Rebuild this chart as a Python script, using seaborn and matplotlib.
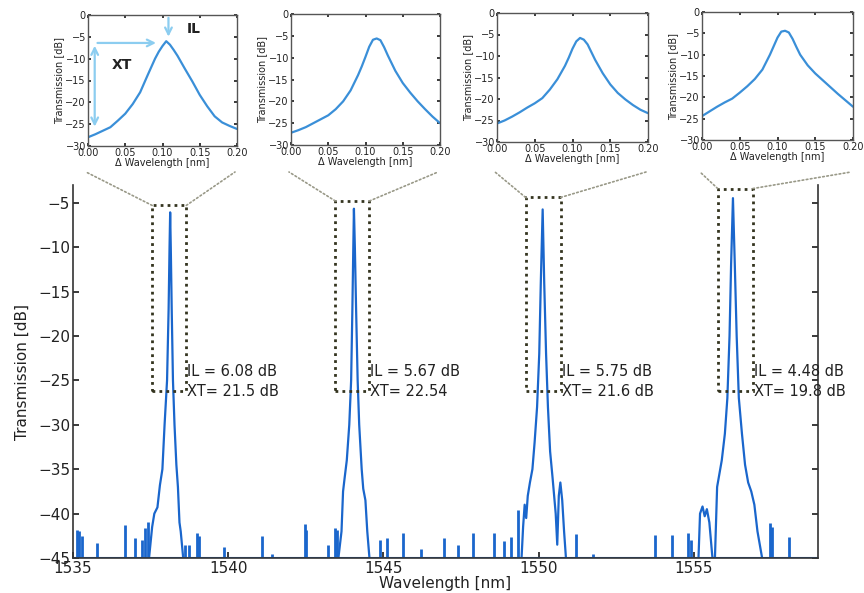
"""
Ring filter transmission: full spectrum with zoomed insets around each channel.
"""

import matplotlib
matplotlib.use("Agg")
import matplotlib.pyplot as plt
from matplotlib.patches import ConnectionPatch, Rectangle
import seaborn as sns

# ---- inset data (delta wavelength in nm, transmission in dB) ----
inset_x = [0.00, 0.01, 0.02, 0.03, 0.04, 0.05, 0.06, 0.07, 0.08, 0.09, 0.095, 0.10,
           0.105, 0.11, 0.115, 0.12, 0.125, 0.13, 0.14, 0.15, 0.16, 0.17, 0.18, 0.19, 0.20]
inset1_y = [-28.0, -27.3, -26.5, -25.7, -24.2, -22.6, -20.4, -17.7, -13.8, -10.0, -8.4, -7.1,
            -6.0, -6.8, -8.0, -9.3, -10.8, -12.3, -15.2, -18.3, -20.9, -23.2, -24.6, -25.4, -26.1]
inset2_y = [-27.2, -26.6, -25.9, -25.0, -24.1, -23.2, -21.8, -20.0, -17.5, -14.0, -12.0, -9.8,
            -7.5, -5.9, -5.6, -6.0, -7.6, -9.5, -13.0, -15.8, -18.0, -20.0, -21.8, -23.5, -25.0]
inset3_y = [-25.7, -25.0, -24.1, -23.1, -22.0, -21.0, -19.8, -17.8, -15.4, -12.3, -10.4, -8.3,
            -6.6, -5.8, -6.2, -7.3, -9.1, -10.9, -14.0, -16.6, -18.6, -20.1, -21.4, -22.5, -23.3]
inset4_y = [-24.4, -23.3, -22.2, -21.2, -20.3, -18.9, -17.4, -15.7, -13.5, -10.0, -8.0, -6.0,
            -4.6, -4.4, -4.8, -6.3, -8.2, -10.0, -12.5, -14.4, -16.0, -17.6, -19.2, -20.7, -22.2]
inset_curves = [inset1_y, inset2_y, inset3_y, inset4_y]

# ---- main spectrum: the four channel peaks ----
peak1_x = [1537.45, 1537.55, 1537.62, 1537.72, 1537.80, 1537.88, 1537.95, 1538.03, 1538.08,
           1538.11, 1538.13, 1538.15, 1538.18, 1538.22, 1538.27, 1538.33, 1538.38, 1538.43,
           1538.47, 1538.55]
peak1_y = [-45, -41.5, -40, -39.3, -36.8, -35, -30, -25, -17, -10, -6.08, -10, -17, -25,
           -30, -34.5, -37, -41, -42, -45]
peak2_x = [1543.55, 1543.65, 1543.70, 1543.75, 1543.82, 1543.90, 1543.96, 1544.00, 1544.03,
           1544.05, 1544.08, 1544.12, 1544.17, 1544.22, 1544.30, 1544.35, 1544.42, 1544.48,
           1544.55]
peak2_y = [-45, -42, -37.5, -36, -34, -30, -25, -17, -10, -5.67, -10, -17, -25, -30, -35,
           -37.2, -38.5, -42, -45]
peak3_x = [1549.45, 1549.50, 1549.55, 1549.60, 1549.65, 1549.72, 1549.80, 1549.87, 1549.95,
           1550.02, 1550.07, 1550.13, 1550.18, 1550.24, 1550.30, 1550.37, 1550.45, 1550.55,
           1550.60, 1550.65, 1550.70, 1550.76, 1550.82, 1550.88]
peak3_y = [-45, -41.5, -39, -40.5, -38, -36.5, -35, -32, -28, -22, -14, -5.75, -14, -22,
           -28, -33, -36, -40, -43.5, -38, -36.5, -38.5, -42, -45]
peak4_x = [1555.15, 1555.20, 1555.28, 1555.35, 1555.42, 1555.50, 1555.60, 1555.68, 1555.75,
           1555.80, 1555.90, 1556.00, 1556.08, 1556.15, 1556.20, 1556.26, 1556.32, 1556.38,
           1556.45, 1556.55, 1556.65, 1556.75, 1556.85, 1556.95, 1557.05, 1557.15, 1557.20]
peak4_y = [-45, -40, -39.2, -40.3, -39.5, -41, -45, -45, -37, -36, -34, -31, -27, -20, -12,
           -4.48, -12, -20, -27, -31, -34.5, -36.5, -37.5, -39, -42, -44, -45]
peaks = [(peak1_x, peak1_y), (peak2_x, peak2_y), (peak3_x, peak3_y), (peak4_x, peak4_y)]

# ---- noise spikes above the -45 dB floor ----
spike_x = [1535.12, 1535.20, 1535.28, 1535.77, 1536.68, 1537.00, 1537.22, 1537.32, 1537.40,
           1538.60, 1538.75, 1539.00, 1539.07, 1539.85, 1541.10, 1541.40, 1542.48, 1542.52,
           1543.23, 1543.45, 1543.52, 1544.90, 1545.10, 1545.64, 1546.20, 1546.94, 1547.39,
           1547.87, 1548.55, 1548.87, 1549.10, 1549.33, 1551.20, 1551.74, 1553.74, 1554.29,
           1554.80, 1554.92, 1557.45, 1557.52, 1558.06]
spike_y = [-41.8, -42.0, -42.5, -43.3, -41.3, -42.8, -43.0, -41.6, -41.0,
           -43.5, -43.5, -42.2, -42.5, -43.8, -42.5, -44.5, -41.2, -41.8,
           -43.5, -41.6, -41.8, -43.0, -42.7, -42.2, -44.0, -42.7, -43.5,
           -42.2, -42.2, -43.1, -42.6, -39.6, -42.3, -44.5, -42.4, -42.4,
           -42.2, -43.0, -41.1, -41.5, -42.6]

# ---- zoom boxes and annotations ----
box_left = [1537.55, 1543.45, 1549.58, 1555.77]
box_right = [1538.65, 1544.55, 1550.71, 1556.90]
box_top = [-5.3, -4.8, -4.4, -3.4]
box_bottom = -26.2
il_values = ["6.08 dB", "5.67 dB", "5.75 dB", "4.48 dB"]
xt_values = ["21.5 dB", "22.54", "21.6 dB", "19.8 dB"]
label_x = [1538.68, 1544.58, 1550.74, 1556.93]

# inset placement in figure pixels: (left, right, top, bottom)
inset_px = [(88, 237, 15, 146), (291, 440, 14, 145), (497, 648, 13, 142), (702, 853, 12, 140)]

W, H = 864, 593
LINE = "#1a66cc"
INSET_LINE = "#3a8fd8"
ARROW = "#8ccdf0"
TEXT = "#222222"

sns.set_theme(style="ticks")
plt.rcParams['font.family'] = ['DejaVu Sans']

fig = plt.figure(figsize=(W / 100, H / 100), dpi=100)

# ---- main axes ----
ax = fig.add_axes([73 / W, 1 - 558 / H, (818 - 73) / W, (558 - 185) / H])
ax.plot([1535, 1559], [-45, -45], color=LINE, lw=1.5)
for px, py in peaks:
    sns.lineplot(x=px, y=py, ax=ax, color=LINE, lw=1.6, sort=False, estimator=None)
ax.vlines(spike_x, -45, spike_y, color=LINE, lw=2)

ax.set_xlim(1535, 1559)
ax.set_ylim(-45, -3)
ax.set_xticks([1535, 1540, 1545, 1550, 1555])
ax.set_yticks([-5, -10, -15, -20, -25, -30, -35, -40, -45])
ax.tick_params(direction="in", length=4, labelsize=11, pad=2, colors=TEXT, right=True)
ax.spines["top"].set_visible(False)
for s in ["left", "right", "bottom"]:
    ax.spines[s].set_color("#333333")
    ax.spines[s].set_linewidth(1.2)
ax.set_xlabel("Wavelength [nm]", fontsize=11, labelpad=0, color=TEXT)
ax.set_ylabel("Transmission [dB]", fontsize=11, labelpad=6, color=TEXT)

for i in range(4):
    rect = Rectangle((box_left[i], box_bottom), box_right[i] - box_left[i],
                     box_top[i] - box_bottom, fill=False, ls=(0, (1, 1.5)),
                     lw=2, ec="#34341f", zorder=4)
    ax.add_patch(rect)
    ax.text(label_x[i], -24.0, "IL = " + il_values[i], fontsize=10.5, color=TEXT, va="center")
    ax.text(label_x[i], -26.2, "XT= " + xt_values[i], fontsize=10.5, color=TEXT, va="center")

# ---- insets ----
for i, (l, r, t, b) in enumerate(inset_px):
    iax = fig.add_axes([l / W, 1 - b / H, (r - l) / W, (b - t) / H])
    sns.lineplot(x=inset_x, y=inset_curves[i], ax=iax, color=INSET_LINE, lw=1.6,
                 estimator=None)
    iax.set_xlim(0, 0.2)
    iax.set_ylim(-30, 0)
    iax.set_xticks([0.0, 0.05, 0.10, 0.15, 0.20])
    iax.set_xticklabels(["0.00", "0.05", "0.10", "0.15", "0.20"])
    iax.set_yticks([0, -5, -10, -15, -20, -25, -30])
    iax.tick_params(direction="in", length=2.5, labelsize=7, pad=1.5, colors=TEXT,
                    top=True, right=True)
    for s in iax.spines.values():
        s.set_color("#555555")
        s.set_linewidth(1.0)
    iax.set_xlabel("\u0394 Wavelength [nm]", fontsize=7, labelpad=0, color=TEXT)
    iax.set_ylabel("Transmission [dB]", fontsize=7, labelpad=1, color=TEXT)

    if i == 0:
        iax.annotate("", xy=(0.009, -26.2), xytext=(0.009, -6.4),
                     arrowprops=dict(arrowstyle="<->", color=ARROW, lw=1.6))
        iax.annotate("", xy=(0.095, -6.4), xytext=(0.009, -6.4),
                     arrowprops=dict(arrowstyle="->", color=ARROW, lw=1.6))
        iax.annotate("", xy=(0.108, -5.6), xytext=(0.108, 0),
                     arrowprops=dict(arrowstyle="->", color=ARROW, lw=1.6))
        iax.text(0.045, -11.5, "XT", fontsize=10, fontweight="bold", color=TEXT,
                 ha="center", va="center")
        iax.text(0.142, -3.2, "IL", fontsize=10, fontweight="bold", color=TEXT,
                 ha="center", va="center")

    # dotted connector lines from the zoom box to the inset
    for bx, fx in [(box_left[i], l - 2), (box_right[i], r - 2)]:
        con = ConnectionPatch(xyA=(bx, box_top[i]), coordsA=ax.transData,
                              xyB=(fx / W, 1 - 172 / H), coordsB=fig.transFigure,
                              ls=(0, (1, 1.5)), color="#999988", lw=1.2)
        fig.add_artist(con)

fig.savefig("out.png", dpi=100)
